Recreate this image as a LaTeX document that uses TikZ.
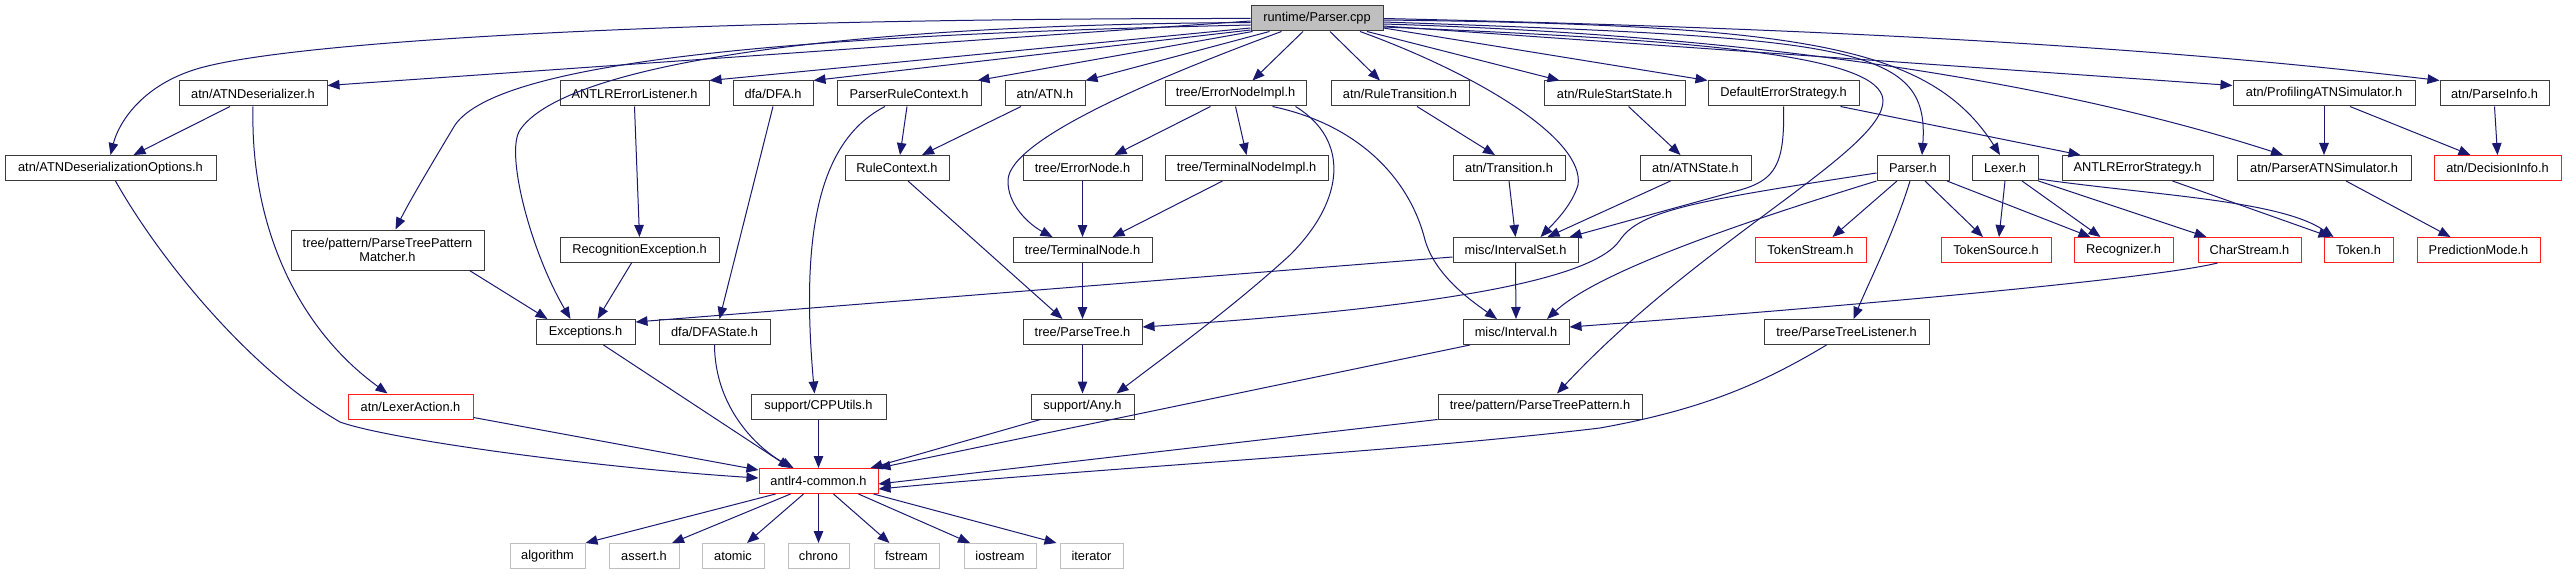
\documentclass[tikz,border=0pt]{standalone}
\usepackage{fontspec}
\setmainfont{Liberation Sans}
\usetikzlibrary{arrows.meta}
\definecolor{edgec}{RGB}{25,25,112}
\definecolor{bd}{RGB}{60,60,60}
\definecolor{redb}{RGB}{255,30,30}
\definecolor{grayb}{RGB}{191,191,191}
\newcommand\nodefont{\fontsize{12.8}{14.5}\selectfont}
\tikzset{
  nb/.style={draw=bd, fill=white, line width=1pt, inner sep=0pt, minimum height=25pt, font=\nodefont, text=black, align=center},
  rb/.style={nb, draw=redb},
  gb/.style={nb, draw=grayb},
  pb/.style={nb, fill=grayb},
  edg/.style={draw=edgec, line width=1pt, -{Triangle[length=12pt,width=9.5pt,fill=edgec]}},
}
\begin{document}
\begin{tikzpicture}[x=1pt,y=-1pt]
\fill[white] (0,0) rectangle (2565,575);
\useasboundingbox (0,0) rectangle (2565,575);
% row 0
\node[pb, minimum width=132pt] (P) at (1317,18.5) {runtime/Parser.cpp};
% row 1
\node[nb, minimum width=148pt] (deser) at (253,93.5) {atn/ATNDeserializer.h};
\node[nb, minimum width=149pt] (ael) at (634.5,93.5) {ANTLRErrorListener.h};
\node[nb, minimum width=80pt] (dfa) at (773,93.5) {dfa/DFA.h};
\node[nb, minimum width=144pt] (prc) at (909,93.5) {ParserRuleContext.h};
\node[nb, minimum width=80pt] (atn) at (1045,93.5) {atn/ATN.h};
\node[nb, minimum width=141pt] (eni) at (1235.5,93.5) {tree/ErrorNodeImpl.h};
\node[nb, minimum width=138pt] (rtr) at (1400,93.5) {atn/RuleTransition.h};
\node[nb, minimum width=141pt] (rss) at (1614.5,93.5) {atn/RuleStartState.h};
\node[nb, minimum width=151pt] (des) at (1783.5,93.5) {DefaultErrorStrategy.h};
\node[nb, minimum width=182pt] (pas) at (2324,93.5) {atn/ProfilingATNSimulator.h};
\node[nb, minimum width=109pt] (pinf) at (2494.5,93.5) {atn/ParseInfo.h};
% row 2
\node[nb, minimum width=211pt] (dopt) at (110.5,168) {atn/ATNDeserializationOptions.h};
\node[nb, minimum width=104pt] (rc) at (897,168) {RuleContext.h};
\node[nb, minimum width=119pt] (en) at (1082.5,168) {tree/ErrorNode.h};
\node[nb, minimum width=163pt] (tni) at (1246.5,168) {tree/TerminalNodeImpl.h};
\node[nb, minimum width=112pt] (tr) at (1509,168) {atn/Transition.h};
\node[nb, minimum width=111pt] (ast) at (1695.5,168) {atn/ATNState.h};
\node[nb, minimum width=72pt] (ph) at (1913,168) {Parser.h};
\node[nb, minimum width=66pt] (lx) at (2005,168) {Lexer.h};
\node[nb, minimum width=151pt] (aes) at (2137.5,168) {ANTLRErrorStrategy.h};
\node[nb, minimum width=174pt] (pats) at (2324,168) {atn/ParserATNSimulator.h};
\node[rb, minimum width=127pt] (di) at (2497.5,168) {atn/DecisionInfo.h};
% row 3
\node[nb, minimum width=193pt, minimum height=40pt] (ptpm) at (387.5,250) {tree/pattern/ParseTreePattern\\Matcher.h};
\node[nb, minimum width=159pt] (re) at (639.5,250) {RecognitionException.h};
\node[nb, minimum width=139pt] (tn) at (1082.5,250) {tree/TerminalNode.h};
\node[nb, minimum width=125pt] (is) at (1515.5,250) {misc/IntervalSet.h};
\node[rb, minimum width=111pt] (ts) at (1810.5,250) {TokenStream.h};
\node[rb, minimum width=110pt] (tsrc) at (1996,250) {TokenSource.h};
\node[rb, minimum width=99pt] (rec) at (2123.5,250) {Recognizer.h};
\node[rb, minimum width=103pt] (cs) at (2249.5,250) {CharStream.h};
\node[rb, minimum width=69pt] (tok) at (2358.5,250) {Token.h};
\node[rb, minimum width=123pt] (pm) at (2478.5,250) {PredictionMode.h};
% row 4
\node[nb, minimum width=99pt] (exc) at (585.5,332) {Exceptions.h};
\node[nb, minimum width=111pt] (dfas) at (714.5,332) {dfa/DFAState.h};
\node[nb, minimum width=119pt] (pt) at (1082.5,332) {tree/ParseTree.h};
\node[nb, minimum width=106pt] (iv) at (1516,332) {misc/Interval.h};
\node[nb, minimum width=165pt] (ptl) at (1846.5,332) {tree/ParseTreeListener.h};
% row 5
\node[rb, minimum width=125pt] (la) at (410.5,406.5) {atn/LexerAction.h};
\node[nb, minimum width=135pt] (cpp) at (818.5,406.5) {support/CPPUtils.h};
\node[nb, minimum width=103pt] (any) at (1082.5,406.5) {support/Any.h};
\node[nb, minimum width=204pt] (ptp) at (1540,406.5) {tree/pattern/ParseTreePattern.h};
% row 6
\node[rb, minimum width=119pt] (ac) at (818.5,481) {antlr4-common.h};
% row 7
\node[gb, minimum width=75pt] (alg) at (547.5,556) {algorithm};
\node[gb, minimum width=70pt] (ass) at (644,556) {assert.h};
\node[gb, minimum width=62pt] (atm) at (733,556) {atomic};
\node[gb, minimum width=61pt] (chr) at (818.5,556) {chrono};
\node[gb, minimum width=65pt] (fst) at (906.5,556) {fstream};
\node[gb, minimum width=72pt] (ios) at (1000,556) {iostream};
\node[gb, minimum width=63pt] (itr) at (1091.5,556) {iterator};

% ---- edges from Parser.cpp
\draw[edg] (P.west) .. controls (700,18) and (300,40) .. (200,68) .. controls (140,85) and (118,125) .. (dopt.north);
\draw[edg] ([yshift=-2.5pt]P.west) -- ([yshift=8pt]deser.east);
\draw[edg] ([yshift=-4pt]P.west) .. controls (800,25) and (560,70) .. (520,130) .. controls (505,152) and (530,250) .. ([xshift=-15pt]exc.north);
\draw[edg] ([yshift=-6.5pt]P.west) .. controls (800,35) and (500,60) .. (455,125) .. controls (440,150) and (410,200) .. ([xshift=8pt]ptpm.north);
\draw[edg] ([yshift=-9.5pt]P.west) -- (ael.north east);
\draw[edg] ([yshift=-11.5pt]P.west) -- (dfa.north east);
\draw[edg] ([xshift=2pt]P.south west) -- ([xshift=-4pt]prc.north east);
\draw[edg] ([xshift=19pt]P.south west) -- (atn.north east);
\draw[edg] ([xshift=31pt]P.south west) .. controls (1150,80) and (1010,140) .. (1008,180) .. controls (1007,205) and (1030,225) .. ([xshift=-30pt]tn.north);
\draw[edg] ([xshift=-14pt]P.south) -- ([xshift=17pt]eni.north);
\draw[edg] ([xshift=13pt]P.south) -- ([xshift=-20pt]rtr.north);
\draw[edg] ([xshift=43pt]P.south) .. controls (1480,75) and (1585,140) .. (1578,185) .. controls (1572,205) and (1555,222) .. ([xshift=25pt]is.north);
\draw[edg] ([xshift=50pt]P.south) -- ([xshift=-55pt]rss.north);
\draw[edg] ([yshift=-9.5pt]P.east) -- (des.north west);
\draw[edg] (P.east) .. controls (1900,30) and (2200,52) .. (pinf.north west);
\draw[edg] ([yshift=-1.5pt]P.east) .. controls (1800,25) and (1930,45) .. ([xshift=-5pt]lx.north);
\draw[edg] ([yshift=-3.5pt]P.east) .. controls (1850,38) and (1930,45) .. ([xshift=9pt]ph.north);
\draw[edg] ([yshift=-5.5pt]P.east) .. controls (1750,35) and (2050,80) .. ([xshift=-41pt]pats.north);
\draw[edg] ([yshift=-7.5pt]P.east) -- ([yshift=8pt]pas.west);
\draw[edg] ([yshift=-8.5pt]P.east) .. controls (1700,40) and (1880,55) .. (1883,100) .. controls (1885,150) and (1700,240) .. ([xshift=17pt]ptp.north);

% ---- left part
\draw[edg] ([xshift=-23pt]deser.south) -- ([xshift=23pt]dopt.north);
\draw[edg] (deser.south) .. controls (250,230) and (300,330) .. ([xshift=-23pt]la.north);
\draw[edg] ([xshift=5pt]dopt.south) .. controls (160,260) and (250,370) .. (340,422) .. controls (390,440) and (600,468) .. ([yshift=3pt]ac.west);
\draw[edg] (ael.south) -- (re.north);
\draw[edg] ([xshift=-8pt]re.south) -- ([xshift=12pt]exc.north);
\draw[edg] ([xshift=82pt]ptpm.south) -- ([xshift=-38pt]exc.north);
\draw[edg] ([yshift=-7pt]is.west) -- ([yshift=-3pt]exc.north east);
\draw[edg] (dfa.south) -- ([xshift=5pt]dfas.north);
\draw[edg] (dfas.south) .. controls (715,410) and (760,450) .. ([xshift=-25pt]ac.north);
\draw[edg] ([xshift=18pt]exc.south) -- ([xshift=-28pt]ac.north);
\draw[edg] ([yshift=2pt]la.south east) -- ([yshift=-2pt]ac.north west);
\draw[edg] ([xshift=-2pt]prc.south) -- ([xshift=3pt]rc.north);
\draw[edg] ([xshift=-24pt]prc.south) .. controls (820,140) and (800,230) .. ([xshift=-4pt]cpp.north);
\draw[edg] ([xshift=-24pt]atn.south) -- ([xshift=25pt]rc.north);
\draw[edg] ([xshift=11pt]rc.south) -- ([xshift=-20pt]pt.north);
\draw[edg] (cpp.south) -- (ac.north);

% ---- middle part
\draw[edg] ([xshift=-25pt]eni.south) -- ([xshift=32pt]en.north);
\draw[edg] (eni.south) -- (tni.north);
\draw[edg] ([xshift=37pt]eni.south) .. controls (1360,125) and (1410,180) .. (1425,240) .. controls (1435,275) and (1470,300) .. ([xshift=-19pt]iv.north);
\draw[edg] ([xshift=60pt]eni.south) .. controls (1350,140) and (1345,200) .. (1290,255) .. controls (1230,310) and (1160,360) .. ([xshift=34pt]any.north);
\draw[edg] (en.south) -- (tn.north);
\draw[edg] ([xshift=-24pt]tni.south) -- ([xshift=30pt]tn.north);
\draw[edg] (tn.south) -- (pt.north);
\draw[edg] (pt.south) -- (any.north);
\draw[edg] ([xshift=-42pt]any.south) -- ([xshift=52pt]ac.north);
\draw[edg] ([xshift=17pt]rtr.south) -- ([xshift=-14pt]tr.north);
\draw[edg] (tr.south) -- (is.north);
\draw[edg] ([xshift=14pt]rss.south) -- ([xshift=-15pt]ast.north);
\draw[edg] ([xshift=-25pt]ast.south) -- ([xshift=32pt]is.north);
\draw[edg] (des.south) .. controls (1785,165) and (1775,180) .. (1740,190) -- ([xshift=54pt]is.north);
\draw[edg] (is.south) -- (iv.north);
\draw[edg] ([xshift=-46pt]iv.south) -- (ac.north east);
\draw[edg] (ptp.south west) -- ([yshift=-3pt]ac.east);
\draw[edg] ([xshift=-20pt]ptl.south) .. controls (1760,385) and (1700,410) .. (1600,428) .. controls (1400,452) and (1100,468) .. ([yshift=-8pt]ac.east);

% ---- right part
\draw[edg] ([xshift=57pt]des.south) -- ([xshift=-57pt]aes.north);
\draw[edg] ([xshift=-16pt]ph.south) -- ([xshift=22pt]ts.north);
\draw[edg] ([xshift=12pt]ph.south) -- ([xshift=-13pt]tsrc.north);
\draw[edg] ([xshift=34pt]ph.south) -- ([xshift=-33pt]rec.north);
\draw[edg] ([xshift=-3pt]ph.south) .. controls (1895,230) and (1870,280) .. ([xshift=7pt]ptl.north);
\draw[edg] (ph.south west) .. controls (1750,220) and (1600,270) .. ([xshift=31pt]iv.north);
\draw[edg] ([yshift=-5pt]ph.west) .. controls (1700,200) and (1640,210) .. (1620,240) .. controls (1590,285) and (1400,310) .. ([yshift=5pt]pt.east);
\draw[edg] (lx.south) -- ([xshift=3pt]tsrc.north);
\draw[edg] ([xshift=17pt]lx.south) -- ([xshift=-23pt]rec.north);
\draw[edg] (lx.south east) -- ([xshift=9pt]cs.north west);
\draw[edg] ([yshift=2pt]lx.south east) .. controls (2150,195) and (2280,200) .. ([xshift=-25pt]tok.north);
\draw[edg] ([xshift=35pt]aes.south) -- ([xshift=-28pt]tok.north);
\draw[edg] ([xshift=-32pt]cs.south) .. controls (2150,280) and (1800,310) .. ([yshift=5pt]iv.east);
\draw[edg] (pas.south) -- (pats.north);
\draw[edg] ([xshift=26pt]pas.south) -- ([xshift=-27pt]di.north);
\draw[edg] (pinf.south) -- (di.north);
\draw[edg] ([xshift=22pt]pats.south) -- ([xshift=-28pt]pm.north);

% ---- system headers
\draw[edg] ([xshift=-43pt]ac.south) -- (alg.north east);
\draw[edg] ([xshift=-28pt]ac.south) -- ([xshift=28pt]ass.north);
\draw[edg] ([xshift=-15pt]ac.south) -- ([xshift=14pt]atm.north);
\draw[edg] (ac.south) -- (chr.north);
\draw[edg] ([xshift=15pt]ac.south) -- ([xshift=-17pt]fst.north);
\draw[edg] ([xshift=40pt]ac.south) -- ([xshift=-30pt]ios.north);
\draw[edg] ([xshift=-5pt]ac.south east) -- ([xshift=-3pt]itr.north west);
\end{tikzpicture}
\end{document}
